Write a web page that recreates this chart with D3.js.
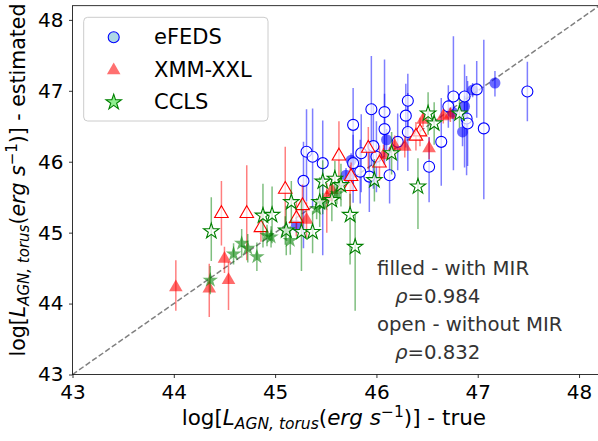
<!DOCTYPE html>
<html>
<head>
<meta charset="utf-8">
<script src="https://cdn.jsdelivr.net/npm/d3@7"></script>
<style>
  body { margin: 0; background: #fff; }
  svg { display: block; font-family: "DejaVu Sans", sans-serif; }
</style>
</head>
<body>
<svg id="chart"></svg>
<script>
// each point: [true, estimated, err down, err up]
var efedsFilled = [
  [46.10, 46.31, 0.15, 0.15], [47.17, 47.11, 0.19, 0.17], [46.85, 46.42, 0.2, 0.2],
  [46.87, 46.78, 0.15, 0.15], [45.75, 46.02, 0.1, 0.1], [45.70, 45.81, 0.1, 0.1],
  [46.95, 47.01, 0.1, 0.1], [46.75, 46.70, 0.1, 0.1], [45.21, 45.10, 0.1, 0.1]
];
var efedsOpen = [
  [45.31, 46.14, 0.7, 0.6], [45.37, 46.07, 0.7, 0.68], [45.47, 45.98, 1.3, 0.6],
  [45.28, 45.73, 0.95, 0.55], [45.77, 46.52, 1.1, 0.52], [45.95, 46.74, 0.8, 0.75],
  [46.08, 46.70, 0.6, 0.74], [46.08, 46.46, 0.5, 0.5], [46.31, 46.86, 0.4, 0.38],
  [46.29, 46.65, 0.45, 0.45], [46.31, 46.42, 0.55, 0.55], [46.64, 46.28, 0.62, 0.62],
  [46.52, 45.93, 0.5, 0.42], [46.13, 45.81, 0.4, 0.4], [45.93, 45.79, 0.5, 0.5],
  [45.84, 45.86, 0.45, 0.45], [45.85, 46.12, 0.55, 0.55], [45.97, 46.22, 0.6, 0.6],
  [46.00, 46.07, 0.5, 0.5], [46.21, 46.28, 0.4, 0.4], [46.76, 46.92, 1.04, 0.85],
  [46.87, 46.92, 1.0, 0.45], [46.99, 47.02, 0.4, 0.4], [46.89, 46.61, 0.8, 0.6],
  [46.90, 46.54, 0.6, 0.6], [47.06, 46.47, 1.0, 1.25], [47.49, 46.99, 0.42, 0.42],
  [46.71, 46.78, 0.3, 0.3], [45.77, 45.98, 0.4, 0.4]
];
var xxlFilled = [
  [44.02, 44.23, 0.33, 0.38], [44.35, 44.21, 0.4, 0.35], [44.50, 44.63, 0.2, 0.17],
  [44.54, 44.33, 0.42, 0.26], [45.51, 45.50, 0.5, 0.2], [45.56, 45.60, 0.2, 0.2],
  [45.31, 45.18, 0.25, 0.25], [46.28, 46.21, 0.15, 0.15], [46.52, 46.19, 0.15, 0.15],
  [46.66, 46.64, 0.1, 0.1], [46.46, 46.59, 0.1, 0.1], [46.18, 46.22, 0.15, 0.15],
  [46.07, 46.09, 0.15, 0.15], [46.73, 46.66, 0.1, 0.1]
];
var xxlOpen = [
  [44.47, 45.27, 0.45, 0.46], [44.72, 45.27, 0.66, 0.68], [44.86, 45.07, 0.2, 0.2],
  [45.10, 45.61, 0.5, 0.6], [45.27, 45.38, 0.3, 0.3], [45.21, 45.20, 0.25, 0.25],
  [45.63, 46.08, 0.5, 0.49], [45.74, 45.65, 0.3, 0.3], [45.92, 46.19, 0.3, 0.3],
  [46.03, 45.98, 0.25, 0.25], [46.43, 46.42, 0.2, 0.2], [45.75, 45.79, 0.2, 0.2],
  [46.39, 46.36, 0.2, 0.2]
];
var cclsFilled = [
  [44.36, 44.33, 0.2, 0.2], [44.59, 44.70, 0.15, 0.15], [44.67, 44.85, 0.2, 0.2],
  [44.73, 44.78, 0.2, 0.2], [44.82, 44.66, 0.2, 0.2], [44.92, 44.96, 0.15, 0.15],
  [44.96, 44.94, 0.15, 0.15], [45.10, 45.03, 0.2, 0.2], [45.15, 44.89, 0.2, 0.2],
  [45.41, 45.34, 0.15, 0.15], [45.47, 45.41, 0.15, 0.15], [45.61, 45.55, 0.15, 0.15]
];
var cclsOpen = [
  [44.37, 45.02, 0.42, 0.48], [44.88, 45.24, 0.45, 0.45], [44.97, 45.25, 0.4, 0.4],
  [45.16, 45.43, 0.3, 0.3], [45.11, 45.03, 0.35, 0.35], [45.26, 45.01, 0.55, 0.45],
  [45.37, 45.01, 0.3, 0.3], [45.47, 45.72, 0.3, 0.3], [45.59, 45.76, 0.25, 0.25],
  [45.65, 45.67, 0.3, 0.3], [45.44, 45.43, 0.35, 0.35], [45.56, 45.46, 0.3, 0.3],
  [45.74, 45.25, 0.7, 0.3], [45.79, 44.80, 0.9, 0.45], [46.51, 46.68, 0.3, 0.3],
  [46.57, 46.54, 0.3, 0.3], [46.82, 46.68, 0.2, 0.2], [46.41, 45.65, 0.6, 0.4],
  [45.98, 45.74, 0.3, 0.3], [46.15, 46.12, 0.3, 0.3]
];
var ticks = [43, 44, 45, 46, 47, 48];
var legendNames = ["eFEDS", "XMM-XXL", "CCLS"];
var rhoFilled = 0.984;
var rhoOpen = 0.832;

var width = 598, height = 441;
var padL = 72.5, padR = 599.3, padT = 5.7, padB = 374.5;

var svg = d3.select("#chart").attr("width", width).attr("height", height);

var x = d3.scaleLinear().domain([43, 48.2]).range([padL, padR]);
var y = d3.scaleLinear().domain([43, 48.2]).range([padB, padT]);

svg.append("clipPath").attr("id", "plotclip")
  .append("rect")
  .attr("x", padL).attr("y", padT)
  .attr("width", padR - padL).attr("height", padB - padT);

var plot = svg.append("g").attr("clip-path", "url(#plotclip)");

//one to one line
plot.append("line")
  .attr("x1", x(43)).attr("y1", y(43))
  .attr("x2", x(48.2)).attr("y2", y(48.2))
  .attr("stroke", "#808080")
  .attr("stroke-width", 1.5)
  .attr("stroke-dasharray", "5.5,2.5");

var circle = d3.symbol().type(d3.symbolCircle).size(95);
var triangle = d3.symbol().type(d3.symbolTriangle).size(80);
var star = d3.symbol().type(d3.symbolStar).size(74);

function drawSet(data, color, shape, filled) {
  var g = plot.append("g");
  g.selectAll("line.err").data(data).enter().append("line")
    .attr("class", "err")
    .attr("x1", function(d) { return x(d[0]); })
    .attr("x2", function(d) { return x(d[0]); })
    .attr("y1", function(d) { return y(d[1] - d[2]); })
    .attr("y2", function(d) { return y(d[1] + d[3]); })
    .attr("stroke", color)
    .attr("stroke-opacity", 0.5)
    .attr("stroke-width", 1.5);

  var m = g.selectAll("path.mark").data(data).enter().append("path")
    .attr("class", "mark")
    .attr("d", shape)
    .attr("transform", function(d) {
      return "translate(" + x(d[0]) + "," + y(d[1]) + ")";
    });

  if (filled) {
    m.attr("fill", color).attr("fill-opacity", 0.58).attr("stroke", "none");
  } else {
    m.attr("fill", "white").attr("fill-opacity", 0.7)
      .attr("stroke", color).attr("stroke-width", 1.1);
  }
}

drawSet(efedsFilled, "#0000ff", circle, true);
drawSet(efedsOpen, "#0000ff", circle, false);
drawSet(xxlFilled, "#ff0000", triangle, true);
drawSet(xxlOpen, "#ff0000", triangle, false);
drawSet(cclsFilled, "#008000", star, true);
drawSet(cclsOpen, "#008000", star, false);

//axes
var xAxis = d3.axisBottom(x).tickValues(ticks).tickFormat(d3.format("d"))
  .tickSize(3.5).tickSizeOuter(0).tickPadding(7);
var yAxis = d3.axisLeft(y).tickValues(ticks).tickFormat(d3.format("d"))
  .tickSize(3.5).tickSizeOuter(0).tickPadding(5.5);

var gx = svg.append("g").attr("transform", "translate(0," + padB + ")").call(xAxis);
var gy = svg.append("g").attr("transform", "translate(" + padL + ",0)").call(yAxis);

[gx, gy].forEach(function(g) {
  g.select(".domain").remove();
  g.selectAll(".tick line").attr("stroke", "#000").attr("stroke-width", 0.8);
  g.selectAll(".tick text")
    .attr("fill", "#000")
    .attr("font-size", "20px")
    .attr("font-family", "DejaVu Sans, sans-serif");
});

svg.append("rect")
  .attr("x", padL).attr("y", padT)
  .attr("width", padR - padL).attr("height", padB - padT)
  .attr("fill", "none")
  .attr("stroke", "#000")
  .attr("stroke-width", 0.8);

//axis labels
function axisLabel(sel, tail, sub) {
  sel.append("tspan").text("log[");
  sel.append("tspan").attr("font-style", "italic").text("L");
  sel.append("tspan").attr("font-style", "italic").attr("font-size", sub + "px")
    .attr("dy", 4).text("AGN, torus");
  sel.append("tspan").attr("dy", -4).text("(");
  sel.append("tspan").attr("font-style", "italic").text("erg s");
  sel.append("tspan").attr("font-size", sub + "px").attr("dy", -8.5).text("\u22121");
  sel.append("tspan").attr("dy", 8.5).text(")] - " + tail);
}

var xl = svg.append("text")
  .attr("x", 181.7).attr("y", 425)
  .attr("text-anchor", "start")
  .attr("font-size", "21.5px");
axisLabel(xl, "true", 15.5);

var yl = svg.append("text")
  .attr("transform", "translate(25,180) rotate(-90)")
  .attr("text-anchor", "middle")
  .attr("font-size", "20.5px");
axisLabel(yl, "estimated", 15);

//legend
var legend = svg.append("g");

legend.append("rect")
  .attr("x", 83.7).attr("y", 17.3)
  .attr("width", 184.3).attr("height", 103.7)
  .attr("rx", 4)
  .attr("fill", "white").attr("fill-opacity", 0.8)
  .attr("stroke", "#cccccc").attr("stroke-width", 1);

var legendMarks = [
  { shape: circle, fill: "#add8e6", stroke: "#0000ff" },
  { shape: triangle, fill: "#ff7070", stroke: "none" },
  { shape: star, fill: "#90ee90", stroke: "#008000" }
];
var legendY = [37.3, 70.4, 102.3];

legendNames.forEach(function(name, i) {
  legend.append("path")
    .attr("d", legendMarks[i].shape)
    .attr("transform", "translate(113.7," + legendY[i] + ")")
    .attr("fill", legendMarks[i].fill)
    .attr("stroke", legendMarks[i].stroke)
    .attr("stroke-width", 1.1);

  legend.append("text")
    .text(name)
    .attr("x", 154)
    .attr("y", legendY[i] + 6.5)
    .attr("font-size", "21px")
    .attr("fill", "#000");
});

//correlation notes
var notes = [
  { text: "filled - with MIR", x: 377, y: 275 },
  { text: "\u03c1=" + rhoFilled.toFixed(3), x: 395, y: 303.3, rho: true },
  { text: "open - without MIR", x: 377, y: 330.7 },
  { text: "\u03c1=" + rhoOpen.toFixed(3), x: 395, y: 359.3, rho: true }
];

notes.forEach(function(n) {
  var t = svg.append("text")
    .attr("x", n.x).attr("y", n.y)
    .attr("font-size", "19.7px")
    .attr("fill", "#333333");
  if (n.rho) {
    t.append("tspan").attr("font-style", "italic").text("\u03c1");
    t.append("tspan").text(n.text.slice(1));
  } else {
    t.text(n.text);
  }
});
</script>
</body>
</html>
